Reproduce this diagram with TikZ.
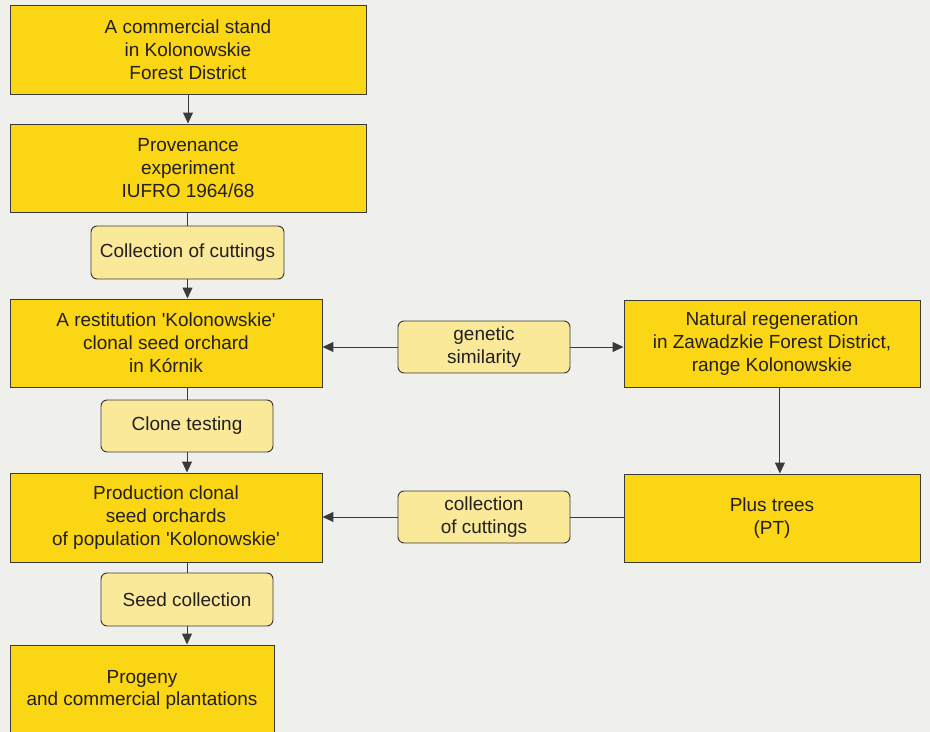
\documentclass[tikz,border=0pt]{standalone}
\usepackage{fontspec}
\setmainfont{Liberation Sans}
\usepackage{xcolor}
\usetikzlibrary{arrows.meta,positioning,calc}

\definecolor{bgcol}{HTML}{EFF0EB}
\definecolor{boxfill}{HTML}{FAD614}
\definecolor{stepfill}{HTML}{FBE99A}
\definecolor{linecol}{HTML}{3A3A3A}
\definecolor{txtcol}{HTML}{231F20}

\begin{document}
\begin{tikzpicture}[
    x=0.02cm, y=-0.02cm,
    font=\fontsize{10.8}{13}\selectfont, text=txtcol,
    stage/.style={rectangle, draw=linecol, line width=0.55pt, fill=boxfill, align=center, inner sep=0pt},
    action/.style={rectangle, draw=linecol, line width=0.55pt, fill=stepfill, rounded corners=3.5pt, align=center, inner sep=0pt},
    edge/.style={-{Triangle[length=6.2pt,width=5.6pt]}, line width=0.55pt, linecol},
    link/.style={line width=0.55pt, linecol}
]
\fill[bgcol] (0,0) rectangle (930,732);
\useasboundingbox (0,0) rectangle (930,732);
\begin{scope}
\clip (0,0) rectangle (930,732);
% left column
\node[stage, minimum width=356*0.02cm, minimum height=89*0.02cm] (stand) at (188,49.5) {A commercial stand\\in Kolonowskie\\Forest District};
\node[stage, minimum width=356*0.02cm, minimum height=88*0.02cm] (prov) at (188,168) {Provenance\\experiment\\IUFRO 1964/68};
\node[action, minimum width=193*0.02cm, minimum height=53*0.02cm] (cut1) at (187.5,252.5) {Collection of cuttings};
\node[stage, minimum width=312*0.02cm, minimum height=88*0.02cm] (rest) at (166,343) {A restitution \textquotesingle Kolonowskie\textquotesingle\\clonal seed orchard\\in Kórnik};
\node[action, minimum width=172*0.02cm, minimum height=52*0.02cm] (clone) at (187,426) {Clone testing};
\node[stage, minimum width=312*0.02cm, minimum height=89*0.02cm] (prod) at (166,517.5) {Production clonal\\seed orchards\\of population \textquotesingle Kolonowskie\textquotesingle};
\node[action, minimum width=172*0.02cm, minimum height=53*0.02cm] (seed) at (187,599.5) {Seed collection};
\node[stage, minimum width=264*0.02cm, minimum height=90*0.02cm] (prog) at (142,690) {Progeny\\and commercial plantations};
% right column
\node[action, minimum width=172*0.02cm, minimum height=52*0.02cm] (gen) at (484,347) {genetic\\similarity};
\node[stage, minimum width=296*0.02cm, minimum height=87*0.02cm] (nat) at (772,343.5) {Natural regeneration\\in Zawadzkie Forest District,\\range Kolonowskie};
\node[action, minimum width=172*0.02cm, minimum height=52*0.02cm] (cut2) at (484,517) {collection\\of cuttings};
\node[stage, minimum width=296*0.02cm, minimum height=88*0.02cm] (plus) at (772,518) {Plus trees\\(PT)};

% connectors
\draw[edge] (stand) -- (prov);
\draw[link] (prov.south -| cut1) -- (cut1);
\draw[edge] (cut1) -- (cut1 |- rest.north);
\draw[link] (rest.south -| clone) -- (clone);
\draw[edge] (clone) -- (clone |- prod.north);
\draw[link] (prod.south -| seed) -- (seed);
\draw[edge] (seed) -- (seed |- prog.north);
\draw[edge] (gen) -- (gen -| rest.east);
\draw[edge] (gen) -- (gen -| nat.west);
\draw[edge] ([xshift=4.5pt]nat.south) -- ([xshift=4.5pt]plus.north);
\draw[link] (plus.west |- cut2) -- (cut2);
\draw[edge] (cut2) -- (cut2 -| prod.east);
\end{scope}
\end{tikzpicture}
\end{document}
